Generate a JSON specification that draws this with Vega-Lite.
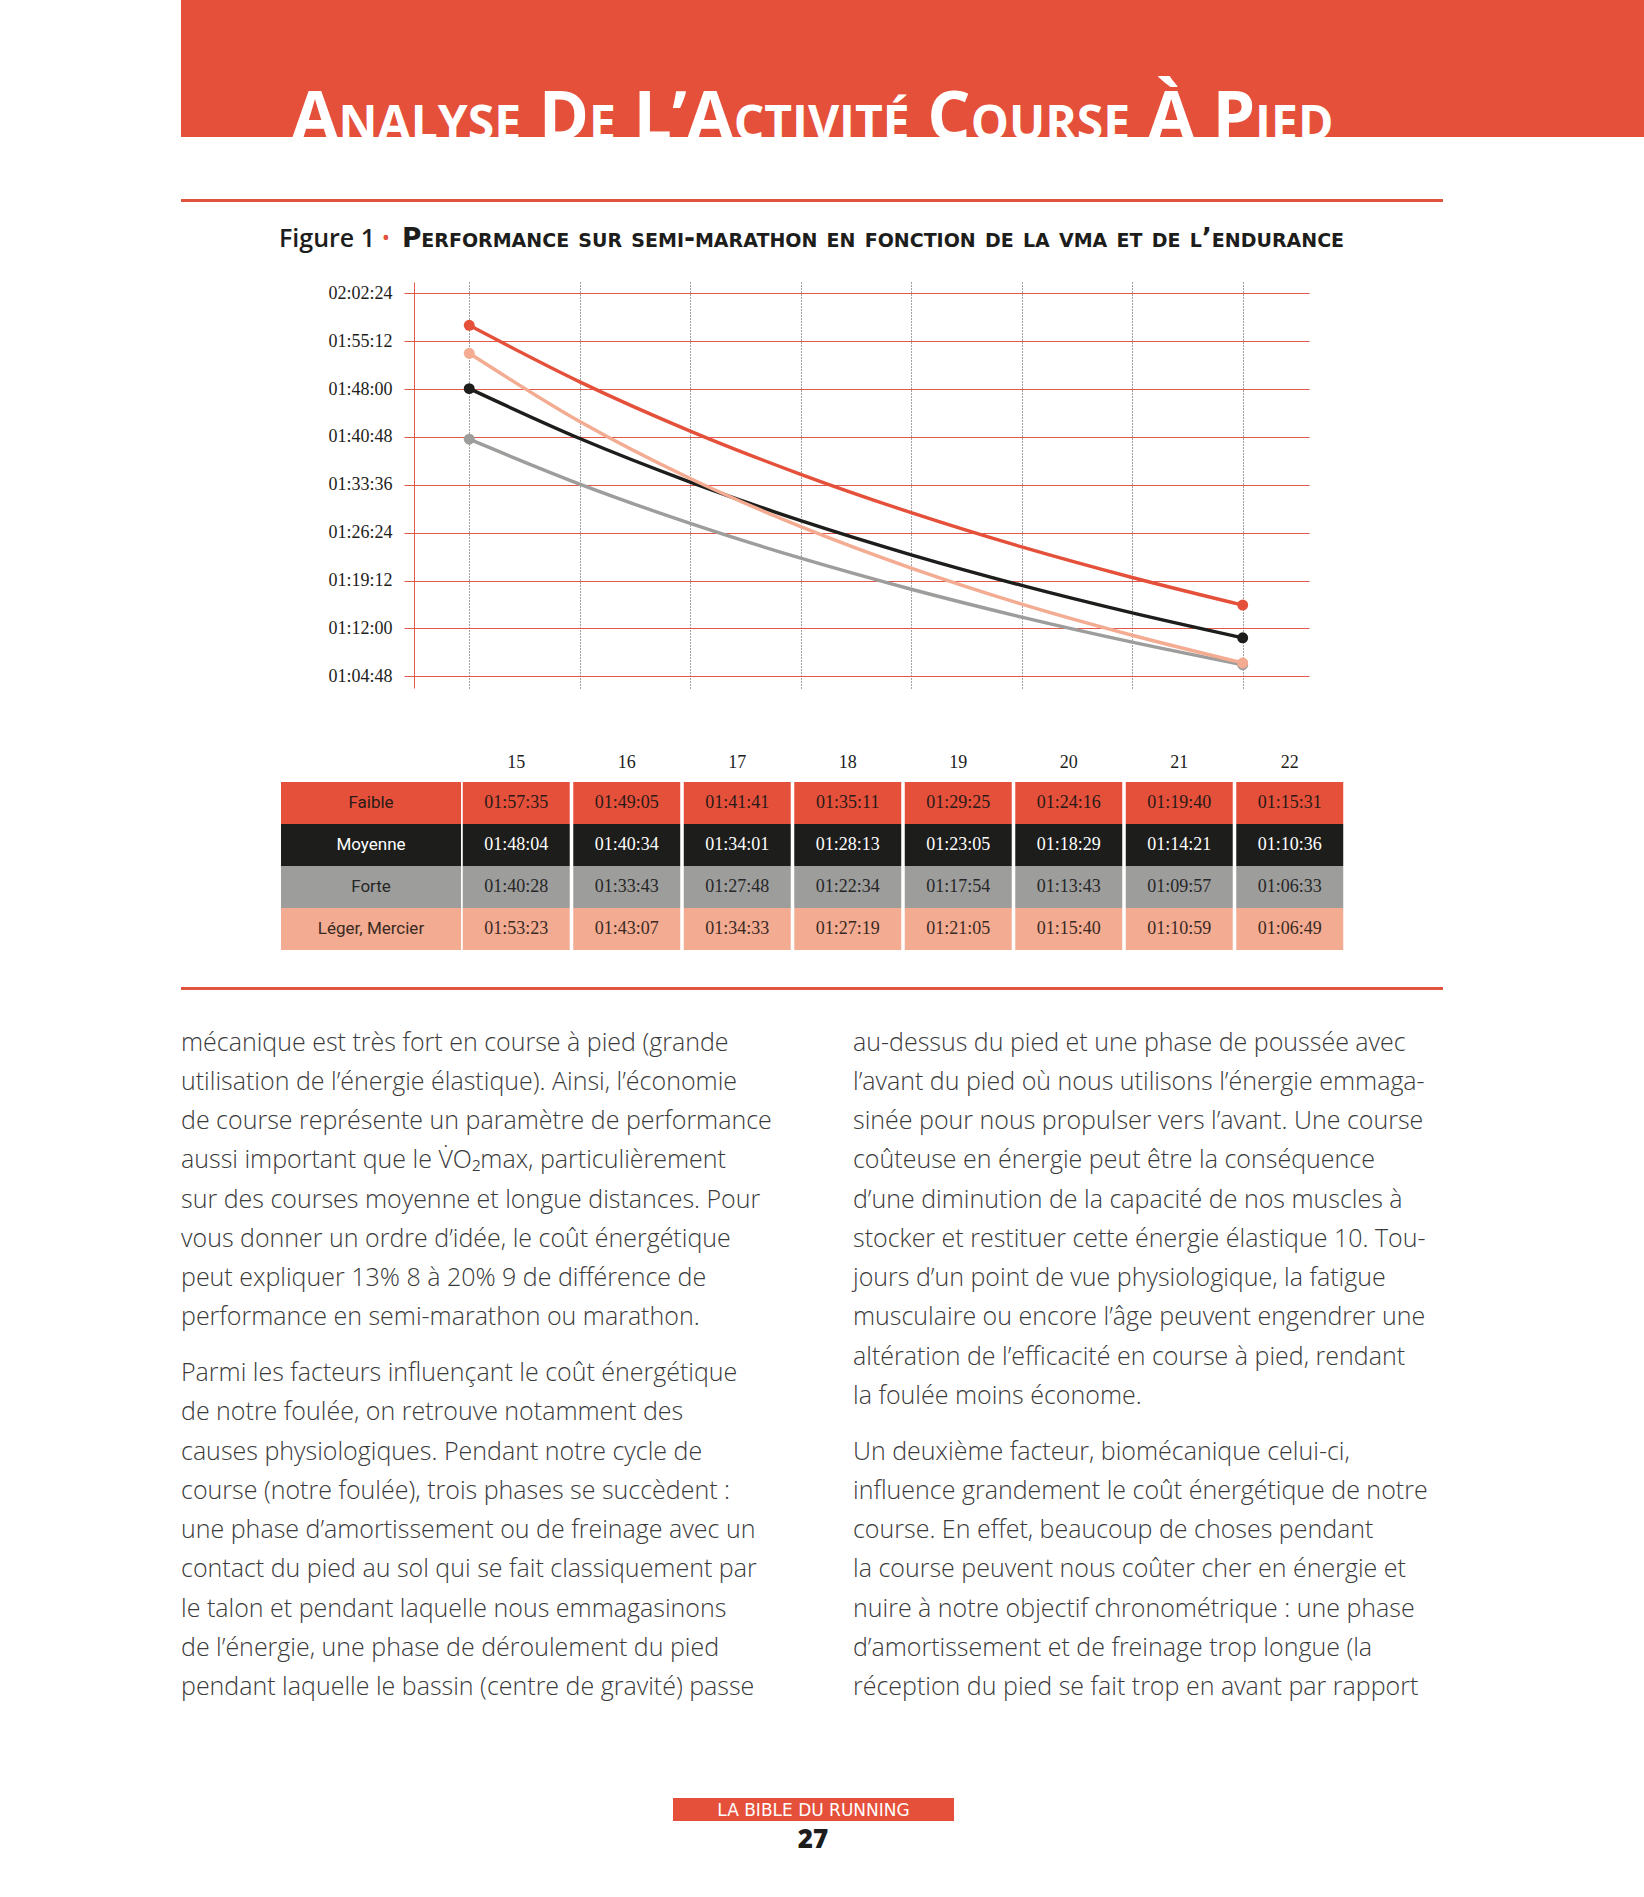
{
  "$schema": "https://vega.github.io/schema/vega-lite/v6.json",
  "background": "white",
  "padding": 0,
  "bounds": "full",
  "spacing": 0,
  "resolve": {"scale": {"yOffset": "independent", "color": "independent", "fill": "independent"}},
  "config": {
    "view": {"stroke": null},
    "style": {"sc": {"fontVariant": "small-caps"}}
  },
  "datasets": {
    "perf": [
      {"serie": "Faible", "vma": 15, "sec": 7055, "t": "01:57:35"},
      {"serie": "Faible", "vma": 16, "sec": 6545, "t": "01:49:05"},
      {"serie": "Faible", "vma": 17, "sec": 6101, "t": "01:41:41"},
      {"serie": "Faible", "vma": 18, "sec": 5711, "t": "01:35:11"},
      {"serie": "Faible", "vma": 19, "sec": 5365, "t": "01:29:25"},
      {"serie": "Faible", "vma": 20, "sec": 5056, "t": "01:24:16"},
      {"serie": "Faible", "vma": 21, "sec": 4780, "t": "01:19:40"},
      {"serie": "Faible", "vma": 22, "sec": 4531, "t": "01:15:31"},
      {"serie": "Moyenne", "vma": 15, "sec": 6484, "t": "01:48:04"},
      {"serie": "Moyenne", "vma": 16, "sec": 6034, "t": "01:40:34"},
      {"serie": "Moyenne", "vma": 17, "sec": 5641, "t": "01:34:01"},
      {"serie": "Moyenne", "vma": 18, "sec": 5293, "t": "01:28:13"},
      {"serie": "Moyenne", "vma": 19, "sec": 4985, "t": "01:23:05"},
      {"serie": "Moyenne", "vma": 20, "sec": 4709, "t": "01:18:29"},
      {"serie": "Moyenne", "vma": 21, "sec": 4461, "t": "01:14:21"},
      {"serie": "Moyenne", "vma": 22, "sec": 4236, "t": "01:10:36"},
      {"serie": "Forte", "vma": 15, "sec": 6028, "t": "01:40:28"},
      {"serie": "Forte", "vma": 16, "sec": 5623, "t": "01:33:43"},
      {"serie": "Forte", "vma": 17, "sec": 5268, "t": "01:27:48"},
      {"serie": "Forte", "vma": 18, "sec": 4954, "t": "01:22:34"},
      {"serie": "Forte", "vma": 19, "sec": 4674, "t": "01:17:54"},
      {"serie": "Forte", "vma": 20, "sec": 4423, "t": "01:13:43"},
      {"serie": "Forte", "vma": 21, "sec": 4197, "t": "01:09:57"},
      {"serie": "Forte", "vma": 22, "sec": 3993, "t": "01:06:33"},
      {"serie": "Léger, Mercier", "vma": 15, "sec": 6803, "t": "01:53:23"},
      {"serie": "Léger, Mercier", "vma": 16, "sec": 6187, "t": "01:43:07"},
      {"serie": "Léger, Mercier", "vma": 17, "sec": 5673, "t": "01:34:33"},
      {"serie": "Léger, Mercier", "vma": 18, "sec": 5239, "t": "01:27:19"},
      {"serie": "Léger, Mercier", "vma": 19, "sec": 4865, "t": "01:21:05"},
      {"serie": "Léger, Mercier", "vma": 20, "sec": 4540, "t": "01:15:40"},
      {"serie": "Léger, Mercier", "vma": 21, "sec": 4259, "t": "01:10:59"},
      {"serie": "Léger, Mercier", "vma": 22, "sec": 4009, "t": "01:06:49"}
    ],
    "body": [
      {"col": "L", "p": 1, "line": 1, "text": "mécanique est très fort en course à pied (grande"},
      {"col": "L", "p": 1, "line": 2, "text": "utilisation de l’énergie élastique). Ainsi, l’économie"},
      {"col": "L", "p": 1, "line": 3, "text": "de course représente un paramètre de performance"},
      {"col": "L", "p": 1, "line": 4, "text": "aussi important que le V̇O₂max, particulièrement"},
      {"col": "L", "p": 1, "line": 5, "text": "sur des courses moyenne et longue distances. Pour"},
      {"col": "L", "p": 1, "line": 6, "text": "vous donner un ordre d’idée, le coût énergétique"},
      {"col": "L", "p": 1, "line": 7, "text": "peut expliquer 13% 8 à 20% 9 de différence de"},
      {"col": "L", "p": 1, "line": 8, "text": "performance en semi-marathon ou marathon."},
      {"col": "L", "p": 2, "line": 9, "text": "Parmi les facteurs influençant le coût énergétique"},
      {"col": "L", "p": 2, "line": 10, "text": "de notre foulée, on retrouve notamment des"},
      {"col": "L", "p": 2, "line": 11, "text": "causes physiologiques. Pendant notre cycle de"},
      {"col": "L", "p": 2, "line": 12, "text": "course (notre foulée), trois phases se succèdent :"},
      {"col": "L", "p": 2, "line": 13, "text": "une phase d’amortissement ou de freinage avec un"},
      {"col": "L", "p": 2, "line": 14, "text": "contact du pied au sol qui se fait classiquement par"},
      {"col": "L", "p": 2, "line": 15, "text": "le talon et pendant laquelle nous emmagasinons"},
      {"col": "L", "p": 2, "line": 16, "text": "de l’énergie, une phase de déroulement du pied"},
      {"col": "L", "p": 2, "line": 17, "text": "pendant laquelle le bassin (centre de gravité) passe"},
      {"col": "R", "p": 1, "line": 1, "text": "au-dessus du pied et une phase de poussée avec"},
      {"col": "R", "p": 1, "line": 2, "text": "l’avant du pied où nous utilisons l’énergie emmaga-"},
      {"col": "R", "p": 1, "line": 3, "text": "sinée pour nous propulser vers l’avant. Une course"},
      {"col": "R", "p": 1, "line": 4, "text": "coûteuse en énergie peut être la conséquence"},
      {"col": "R", "p": 1, "line": 5, "text": "d’une diminution de la capacité de nos muscles à"},
      {"col": "R", "p": 1, "line": 6, "text": "stocker et restituer cette énergie élastique 10. Tou-"},
      {"col": "R", "p": 1, "line": 7, "text": "jours d’un point de vue physiologique, la fatigue"},
      {"col": "R", "p": 1, "line": 8, "text": "musculaire ou encore l’âge peuvent engendrer une"},
      {"col": "R", "p": 1, "line": 9, "text": "altération de l’efficacité en course à pied, rendant"},
      {"col": "R", "p": 1, "line": 10, "text": "la foulée moins économe."},
      {"col": "R", "p": 2, "line": 11, "text": "Un deuxième facteur, biomécanique celui-ci,"},
      {"col": "R", "p": 2, "line": 12, "text": "influence grandement le coût énergétique de notre"},
      {"col": "R", "p": 2, "line": 13, "text": "course. En effet, beaucoup de choses pendant"},
      {"col": "R", "p": 2, "line": 14, "text": "la course peuvent nous coûter cher en énergie et"},
      {"col": "R", "p": 2, "line": 15, "text": "nuire à notre objectif chronométrique : une phase"},
      {"col": "R", "p": 2, "line": 16, "text": "d’amortissement et de freinage trop longue (la"},
      {"col": "R", "p": 2, "line": 17, "text": "réception du pied se fait trop en avant par rapport"}
    ]
  },
  "vconcat": [
    {
      "hconcat": [
        {"width": 181, "height": 137, "data": {"values": []}, "mark": "point"},
        {
          "width": 1463, "height": 137,
          "view": {"fill": "#E5503A", "stroke": null},
          "data": {"values": [{"t": "Analyse De L’Activité Course À Pied"}]},
          "mark": {"type": "text", "clip": true, "style": "sc", "font": "Open Sans", "fontWeight": 700, "fontSize": 68, "color": "white", "align": "center", "baseline": "alphabetic", "dx": -100, "dy": 71},
          "encoding": {"text": {"field": "t"}}
        }
      ],
      "bounds": "flush", "spacing": 0
    },
    {"width": 10, "height": 62, "data": {"values": []}, "mark": "point"},
    {
      "hconcat": [
        {"width": 181, "height": 3, "data": {"values": []}, "mark": "point"},
        {"width": 1262, "height": 3, "view": {"fill": "#E0533E", "stroke": null}, "data": {"values": []}, "mark": "point"}
      ],
      "bounds": "flush", "spacing": 0
    },
    {
      "hconcat": [
        {"width": 277, "height": 80, "data": {"values": []}, "mark": "point"},
        {
          "width": 100, "height": 80,
          "data": {"values": [{"t": "Figure 1"}]},
          "mark": {"type": "text", "font": "Open Sans", "fontWeight": 600, "fontSize": 25, "color": "#1D1D1B", "baseline": "alphabetic", "dy": 5},
          "encoding": {"text": {"field": "t"}}
        },
        {
          "width": 18, "height": 80,
          "data": {"values": [{"t": "•"}]},
          "mark": {"type": "text", "font": "Open Sans", "fontSize": 22, "color": "#E5503A", "baseline": "alphabetic", "dy": 3},
          "encoding": {"text": {"field": "t"}}
        },
        {
          "width": 956, "height": 80,
          "data": {"values": [{"t": "Performance sur semi-marathon en fonction de la vma et de l’endurance"}]},
          "mark": {"type": "text", "style": "sc", "font": "DejaVu Sans", "fontWeight": 700, "fontSize": 26.5, "color": "#1D1D1B", "baseline": "alphabetic", "dy": 5},
          "encoding": {"text": {"field": "t"}}
        }
      ],
      "bounds": "flush", "spacing": 0
    },
    {
      "hconcat": [
        {"width": 414, "height": 406, "data": {"values": []}, "mark": "point"},
        {
          "width": 895, "height": 406,
          "data": {"name": "perf"},
          "encoding": {
            "x": {
              "field": "vma", "type": "quantitative",
              "scale": {"domain": [14.5, 22.6], "nice": false, "zero": false},
              "axis": {"values": [15, 16, 17, 18, 19, 20, 21, 22], "labels": false, "ticks": false, "domain": false, "grid": true, "gridColor": "#444444", "gridDash": [1, 2], "gridWidth": 1, "title": null}
            },
            "y": {
              "field": "sec", "type": "quantitative",
              "scale": {"domain": [3783, 7446], "nice": false, "zero": false},
              "axis": {
                "values": [3888, 4320, 4752, 5184, 5616, 6048, 6480, 6912, 7344],
                "labelExpr": "utcFormat(datum.value*1000, '%H:%M:%S')",
                "title": null, "grid": true, "gridColor": "#E0584C", "gridWidth": 1,
                "ticks": true, "tickColor": "#E0584C", "tickSize": 10, "tickWidth": 1,
                "domain": true, "domainColor": "#E0584C", "domainWidth": 1,
                "labelFont": "Liberation Serif", "labelFontSize": 18, "labelColor": "#1D1D1B", "labelPadding": 12
              }
            },
            "color": {
              "field": "serie", "type": "nominal",
              "scale": {"domain": ["Faible", "Moyenne", "Forte", "Léger, Mercier"], "range": ["#E5503A", "#1D1D1B", "#9D9D9C", "#F3AB91"]},
              "legend": null
            }
          },
          "layer": [
            {"mark": {"type": "line", "interpolate": "monotone", "strokeWidth": 3.4}},
            {"transform": [{"filter": "datum.vma == 15 || datum.vma == 22"}], "mark": {"type": "point", "filled": true, "size": 120, "opacity": 1}}
          ]
        }
      ],
      "bounds": "flush", "spacing": 0
    },
    {"width": 10, "height": 56, "data": {"values": []}, "mark": "point"},
    {
      "hconcat": [
        {"width": 461, "height": 38, "data": {"values": []}, "mark": "point"},
        {
          "width": 884, "height": 38,
          "data": {"name": "perf"},
          "transform": [{"filter": "datum.serie == 'Faible'"}],
          "mark": {"type": "text", "font": "Liberation Serif", "fontSize": 18, "color": "#1D1D1B", "baseline": "middle"},
          "encoding": {
            "x": {"field": "vma", "type": "ordinal", "scale": {"type": "band", "paddingInner": 0.032, "paddingOuter": 0.016}, "axis": null},
            "text": {"field": "vma", "type": "ordinal"}
          }
        }
      ],
      "bounds": "flush", "spacing": 0
    },
    {
      "hconcat": [
        {"width": 281, "height": 168, "data": {"values": []}, "mark": "point"},
        {
          "width": 180, "height": 168,
          "data": {"name": "perf"},
          "transform": [{"filter": "datum.vma == 15"}],
          "encoding": {
            "y": {"field": "serie", "type": "nominal", "sort": ["Faible", "Moyenne", "Forte", "Léger, Mercier"], "scale": {"paddingInner": 0, "paddingOuter": 0}, "axis": null}
          },
          "layer": [
            {"mark": {"type": "rect"}, "encoding": {"color": {"field": "serie", "type": "nominal", "scale": {"domain": ["Faible", "Moyenne", "Forte", "Léger, Mercier"], "range": ["#E5503A", "#1D1D1B", "#9D9D9C", "#F3AB91"]}, "legend": null}}},
            {"mark": {"type": "text", "font": "Roboto", "fontSize": 17}, "encoding": {"text": {"field": "serie"}, "fill": {"field": "serie", "type": "nominal", "scale": {"domain": ["Faible", "Moyenne", "Forte", "Léger, Mercier"], "range": ["#2A1A17", "#FFFFFF", "#262626", "#3A2A24"]}, "legend": null}}}
          ]
        },
        {
          "width": 884, "height": 168,
          "data": {"name": "perf"},
          "encoding": {
            "x": {"field": "vma", "type": "ordinal", "scale": {"paddingInner": 0.032, "paddingOuter": 0.016}, "axis": null},
            "y": {"field": "serie", "type": "nominal", "sort": ["Faible", "Moyenne", "Forte", "Léger, Mercier"], "scale": {"paddingInner": 0, "paddingOuter": 0}, "axis": null}
          },
          "layer": [
            {"mark": {"type": "rect"}, "encoding": {"color": {"field": "serie", "type": "nominal", "scale": {"domain": ["Faible", "Moyenne", "Forte", "Léger, Mercier"], "range": ["#E5503A", "#1D1D1B", "#9D9D9C", "#F3AB91"]}, "legend": null}}},
            {"mark": {"type": "text", "font": "Liberation Serif", "fontSize": 18}, "encoding": {"text": {"field": "t"}, "fill": {"field": "serie", "type": "nominal", "scale": {"domain": ["Faible", "Moyenne", "Forte", "Léger, Mercier"], "range": ["#2A1A17", "#FFFFFF", "#262626", "#3A2A24"]}, "legend": null}}}
          ]
        }
      ],
      "bounds": "flush", "spacing": 0
    },
    {"width": 10, "height": 37, "data": {"values": []}, "mark": "point"},
    {
      "hconcat": [
        {"width": 181, "height": 3, "data": {"values": []}, "mark": "point"},
        {"width": 1262, "height": 3, "view": {"fill": "#E0533E", "stroke": null}, "data": {"values": []}, "mark": "point"}
      ],
      "bounds": "flush", "spacing": 0
    },
    {"width": 10, "height": 33, "data": {"values": []}, "mark": "point"},
    {
      "hconcat": [
        {"width": 181, "height": 684, "data": {"values": []}, "mark": "point"},
        {
          "width": 1262, "height": 684,
          "data": {"name": "body"},
          "mark": {"type": "text", "align": "left", "baseline": "middle", "font": "Open Sans", "fontWeight": 300, "fontSize": 25, "color": "#3A3A3A"},
          "encoding": {
            "x": {"field": "col", "type": "nominal", "bandPosition": 0, "scale": {"type": "band", "domain": ["L", "R"], "paddingInner": 0.122, "paddingOuter": 0}, "axis": null},
            "y": {"field": "line", "type": "ordinal", "scale": {"type": "point", "padding": 0.713, "align": 0.35}, "axis": null},
            "yOffset": {"field": "p", "type": "quantitative", "scale": {"domain": [1, 2], "range": [0, 16.4]}},
            "text": {"field": "text"}
          }
        }
      ],
      "bounds": "flush", "spacing": 0
    },
    {"width": 10, "height": 91, "data": {"values": []}, "mark": "point"},
    {
      "hconcat": [
        {"width": 673, "height": 23, "data": {"values": []}, "mark": "point"},
        {
          "width": 281, "height": 23,
          "view": {"fill": "#E5503A", "stroke": null},
          "data": {"values": [{"t": "LA BIBLE DU RUNNING"}]},
          "mark": {"type": "text", "font": "DejaVu Sans", "fontSize": 17, "color": "white", "baseline": "middle", "dy": 1},
          "encoding": {"text": {"field": "t"}}
        }
      ],
      "bounds": "flush", "spacing": 0
    },
    {
      "hconcat": [
        {"width": 783, "height": 38, "data": {"values": []}, "mark": "point"},
        {
          "width": 60, "height": 38,
          "data": {"values": [{"t": "27"}]},
          "mark": {"type": "text", "font": "Open Sans", "fontWeight": 800, "fontSize": 26, "color": "#1D1D1B", "baseline": "middle"},
          "encoding": {"text": {"field": "t"}}
        }
      ],
      "bounds": "flush", "spacing": 0
    }
  ]
}
